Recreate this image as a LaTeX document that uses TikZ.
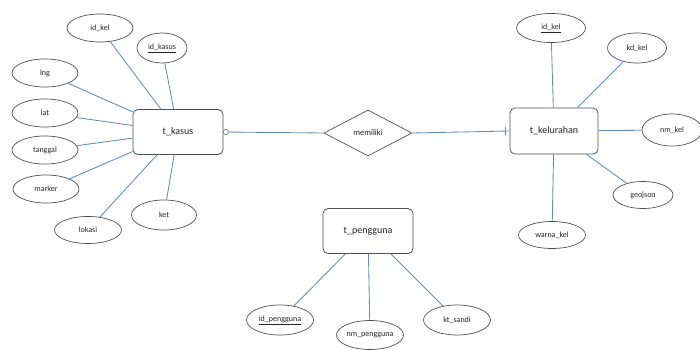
\documentclass[tikz,border=0pt]{standalone}
\usepackage{fontspec}
\setmainfont{Carlito}
\usetikzlibrary{shapes.geometric}
\definecolor{lnk}{RGB}{100,140,175}
\definecolor{edg}{RGB}{80,80,80}
\definecolor{txt}{RGB}{35,35,35}
\tikzset{
  ent/.style={draw=edg, line width=0.8pt, rounded corners=5pt, minimum width=90pt, minimum height=45pt, inner sep=0pt, font=\fontsize{10}{12}\selectfont, text=txt},
  attr/.style={draw=edg, line width=0.7pt, ellipse, inner sep=0pt, minimum width=66pt, minimum height=28pt, font=\fontsize{8}{9.5}\selectfont, text=txt},
  rel/.style={draw=edg, line width=0.7pt, diamond, aspect=1.9, inner sep=0pt, minimum width=88pt, minimum height=46pt, font=\fontsize{8.5}{10}\selectfont, text=txt},
  conn/.style={draw=lnk, line width=0.85pt},
}
\begin{document}
\begin{tikzpicture}[x=1pt,y=-1pt]
\useasboundingbox (0,0) rectangle (700,350);
% entities
\node[ent] (kas) at (178,132) {t\_kasus};
\node[ent, minimum width=88pt, minimum height=46pt] (kel) at (554,131) {t\_kelurahan};
\node[ent] (pen) at (368,231) {t\_pengguna};
\node[rel] (mem) at (368,133) {memiliki};
% t_kasus attributes
\node[attr] (idkel) at (100,28) {id\_kel};
\node[attr, minimum width=50pt, minimum height=30pt] (idkas) at (162,48) {\underline{id\_kasus}};
\node[attr] (lng) at (45,73) {lng};
\node[attr] (lat) at (45,113) {lat};
\node[attr] (tgl) at (45,150) {tanggal};
\node[attr] (mrk) at (46,189) {marker};
\node[attr, minimum width=67pt, minimum height=27pt] (lok) at (88,230) {lokasi};
\node[attr, minimum width=65pt, minimum height=30pt] (ket) at (164,215) {ket};
% t_kelurahan attributes
\node[attr, minimum width=69pt, minimum height=29pt] (idk2) at (551,28) {\underline{id\_kel}};
\node[attr, minimum width=59pt, minimum height=30pt] (kd) at (637,48) {kd\_kel};
\node[attr, minimum width=60pt, minimum height=32pt] (nm) at (672,130) {nm\_kel};
\node[attr, minimum width=60pt, minimum height=27pt] (geo) at (643,195) {geojson};
\node[attr, minimum width=67pt, minimum height=27pt] (wrn) at (552,235) {warna\_kel};
% t_pengguna attributes
\node[attr, minimum width=67pt, minimum height=30pt] (idp) at (280,320) {\underline{id\_pengguna}};
\node[attr, minimum width=67pt, minimum height=29pt] (nmp) at (370,335) {nm\_pengguna};
\node[attr, minimum width=67pt, minimum height=30pt] (kts) at (457,320) {kt\_sandi};
% connectors
\foreach \a in {idkel,idkas,lng,lat,tgl,mrk,lok,ket}
  \draw[conn] (\a) -- (kas);
\foreach \a in {idk2,kd,nm,geo,wrn}
  \draw[conn] (\a) -- (kel);
\foreach \a in {idp,nmp,kts}
  \draw[conn] (\a) -- (pen);
% relationship
\draw[conn] (kas.east) -- (mem.west);
\draw[conn] (mem.east) -- (kel.west);
\draw[draw=lnk, line width=0.8pt, fill=white] ([xshift=2.5pt]kas.east) circle (2.6pt);
\draw[conn] ([xshift=-4pt,yshift=-4pt]kel.west) -- ([xshift=-4pt,yshift=4pt]kel.west);
\end{tikzpicture}
\end{document}
